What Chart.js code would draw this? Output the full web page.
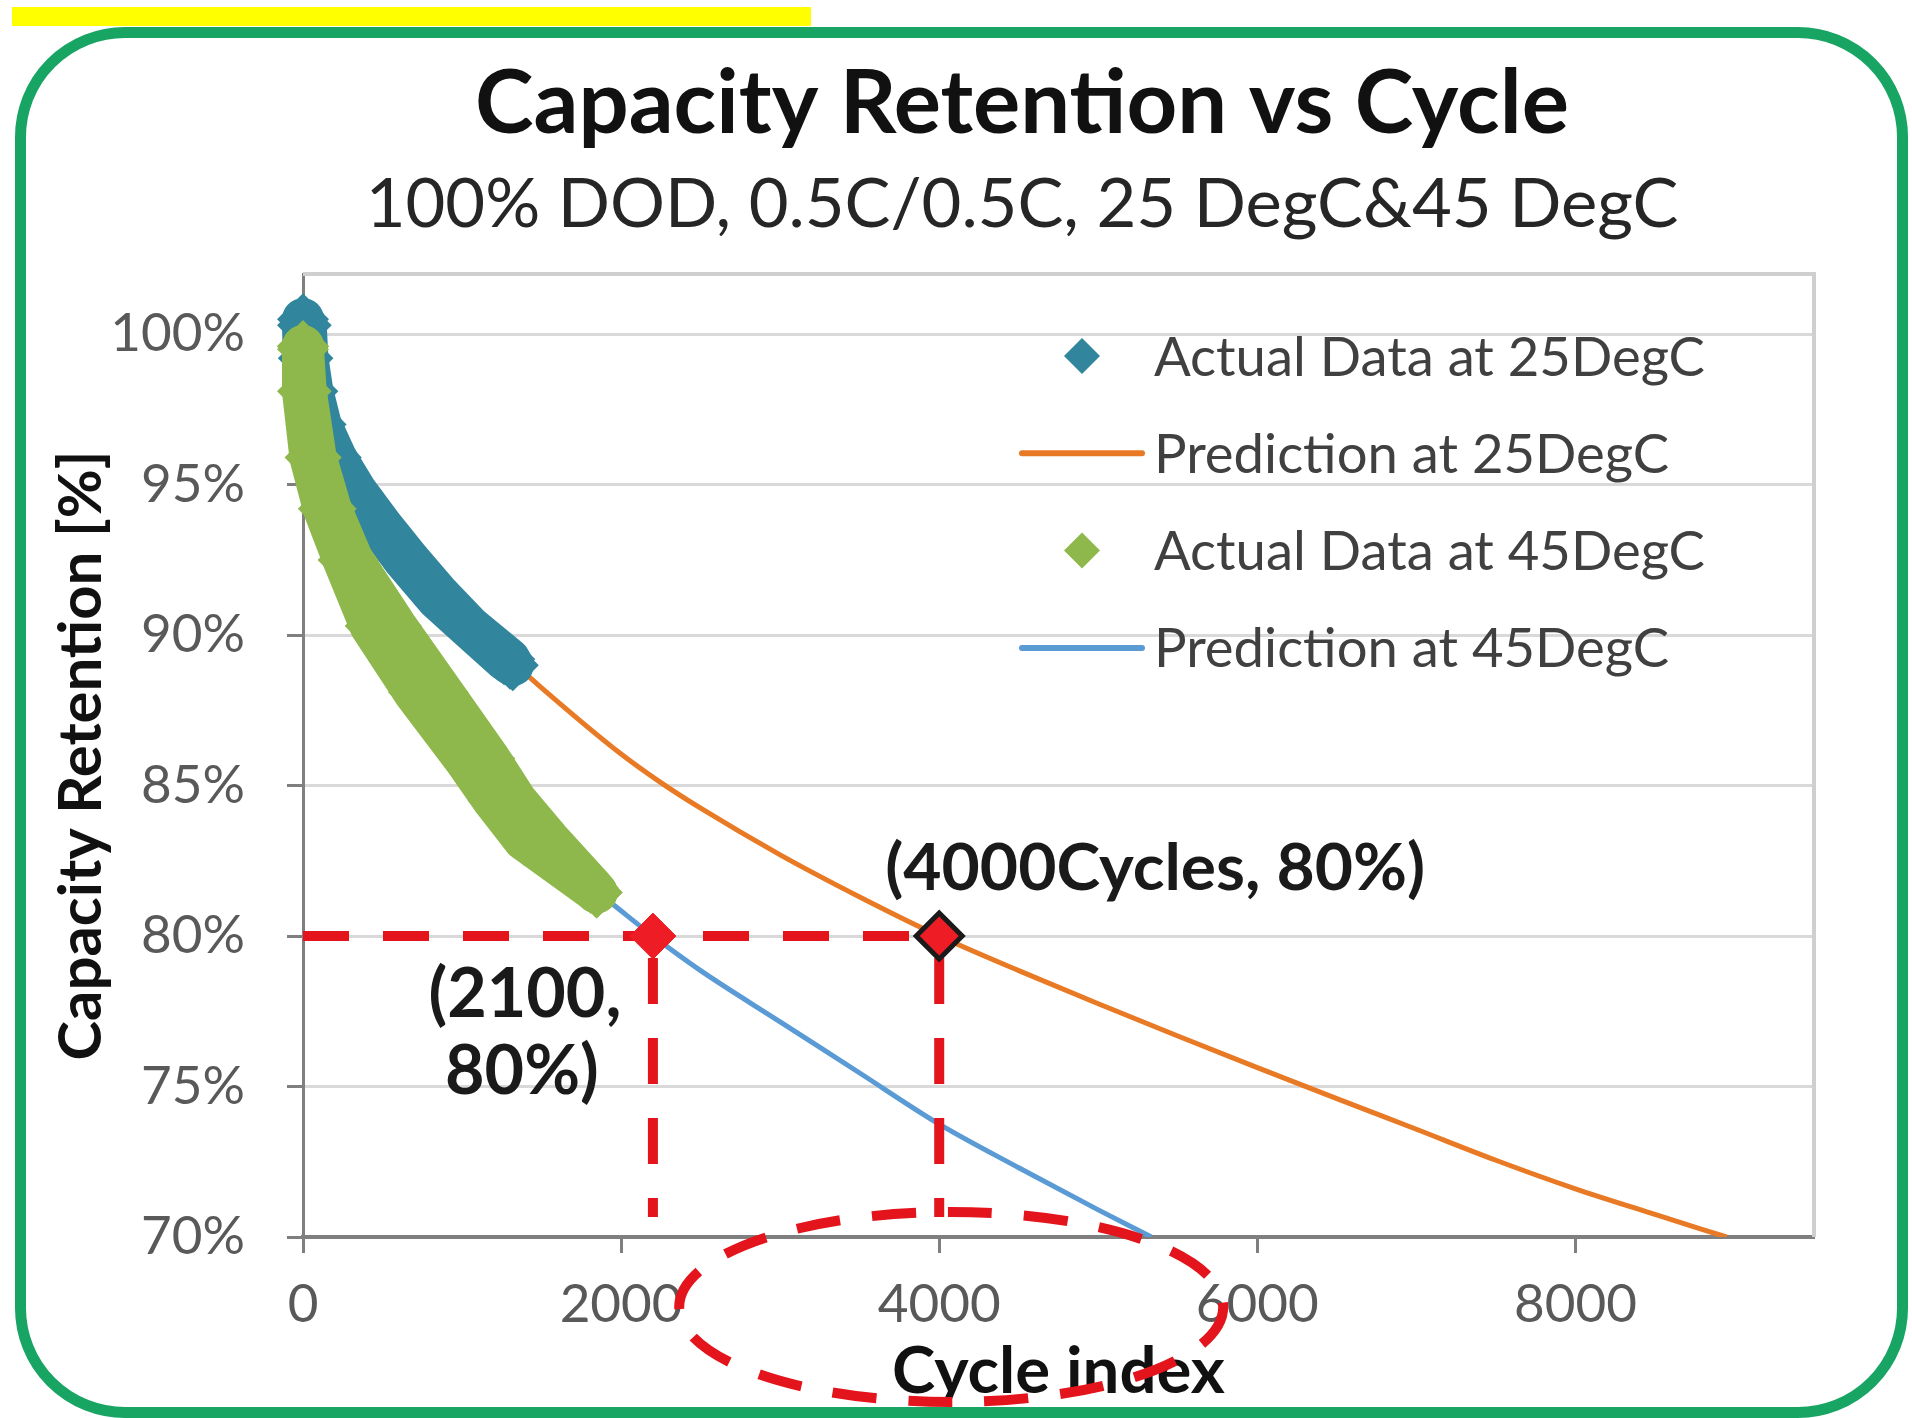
<!DOCTYPE html>
<html>
<head>
<meta charset="utf-8">
<script src="https://cdn.jsdelivr.net/npm/chart.js@4.4.1/dist/chart.umd.min.js"></script>
<style>
html,body{margin:0;padding:0;background:#fff;width:1912px;height:1418px;overflow:hidden;}
#frame{position:absolute;left:15px;top:27px;width:1893px;height:1391px;box-sizing:border-box;border:11px solid #18a462;border-radius:110px;}
#yellow{position:absolute;left:12px;top:7px;width:799px;height:19px;background:#ffff00;}
#c{position:absolute;left:0;top:0;}
</style>
</head>
<body>
<div id="frame"></div>
<div id="yellow"></div>
<canvas id="c" width="1912" height="1418"></canvas>
<script>
// ---------- data (cycles, capacity retention %) ----------
const seriesNames = ['Actual Data at 25DegC', 'Prediction at 25DegC', 'Actual Data at 45DegC', 'Prediction at 45DegC'];

// actual data 25 degC : two measured traces forming the band
const act25UpperCycles = [0, 17, 28, 59, 111, 206, 332, 500, 668, 846, 1045, 1297, 1319];
const act25UpperRet    = [100.5, 100.3, 99.2, 98.1, 97.0, 95.9, 94.8, 93.6, 92.5, 91.4, 90.3, 89.2, 89.0];
const act25LowerCycles = [0, 5, 20, 54, 160, 313, 481, 635, 844, 1033, 1264, 1302];
const act25LowerRet    = [100.3, 99.2, 98.1, 97.0, 95.9, 94.8, 93.6, 92.5, 91.2, 90.3, 89.2, 89.05];

// actual data 45 degC
const act45UpperCycles = [0, 0, 17, 80, 174, 311, 584, 878, 1171, 1340, 1548, 1823, 1846];
const act45UpperRet    = [99.6, 99.5, 98.1, 95.9, 94.2, 92.5, 90.3, 88.1, 85.9, 84.5, 83.2, 81.6, 81.45];
const act45LowerCycles = [0, 0, 47, 131, 255, 425, 698, 1013, 1198, 1390, 1810, 1846];
const act45LowerRet    = [99.6, 98.1, 95.9, 94.2, 92.5, 90.3, 88.1, 85.9, 84.5, 83.2, 81.6, 81.45];

// predictions
const pred25Cycles = [1300, 1500, 2000, 2250, 2500, 3000, 3500, 4000, 4500, 5000, 5500, 6000, 6500, 7000, 7500, 8000, 8500, 8950];
const pred25Ret    = [89.2, 88.25, 86.05, 85.1, 84.25, 82.7, 81.3, 80.0, 78.85, 77.75, 76.68, 75.63, 74.6, 73.58, 72.55, 71.6, 70.75, 70.0];
const pred45Cycles = [1950, 2200, 2500, 3000, 3500, 4000, 4500, 5000, 5334];
const pred45Ret    = [81.05, 80.0, 78.85, 77.15, 75.45, 73.75, 72.3, 70.9, 70.0];

// 80% end-of-life points
const eolCycles = [2200, 4000];
const eolRet    = [80, 80];

// axes
const xTickValues = [0, 2000, 4000, 6000, 8000];
const xTickLabels = ['0', '2000', '4000', '6000', '8000'];
const yTickValues = [70, 75, 80, 85, 90, 95, 100];
const yTickLabels = ['70%', '75%', '80%', '85%', '90%', '95%', '100%'];

const titleText = 'Capacity Retention vs Cycle';
const subtitleText = '100% DOD, 0.5C/0.5C, 25 DegC&45 DegC';
const xTitleText = 'Cycle index';
const yTitleText = 'Capacity Retention [%]';
const annoMain = '(4000Cycles, 80%)';
const annoSecond = ['(2100,', '80%)'];

// ---------- styles ----------
const FAM = 'Lato';
const C25A = '#31859c', C45A = '#8fb84c', C25P = '#e97a25', C45P = '#5b9bd5', RED = '#e3141c';
const meas = document.createElement('canvas').getContext('2d');
function fit(text, weight, target) {
  meas.font = weight + ' 100px ' + FAM;
  return 100 * target / meas.measureText(text).width;
}
const titleSize = fit(titleText, 'bold', 1094);
const subSize = fit(subtitleText, 'normal', 1313);
const tickSize = fit('4000', 'normal', 123);
const yTitleSize = fit(yTitleText, 'bold', 610);
const xTitleSize = fit(xTitleText, 'bold', 333);
const legendSize = fit(seriesNames[0], 'normal', 551);
const annoSize = fit(annoMain, 'bold', 540);
const anno2Size = fit(annoSecond[0], 'bold', 193);

const pts = (xs, ys) => xs.map((x, i) => ({x: x, y: ys[i]}));
const bandStyle = (color) => ({
  showLine: true, borderColor: color, backgroundColor: color, borderWidth: 42,
  borderJoinStyle: 'round', borderCapStyle: 'round', tension: 0,
  pointStyle: 'rectRot', pointRadius: 26, pointBackgroundColor: color,
  pointBorderColor: color, pointBorderWidth: 0, clip: false
});

const datasets = [
  Object.assign({label: 'EOL', data: pts(eolCycles, eolRet), showLine: false,
    pointStyle: 'rectRot', pointRadius: 23, pointBackgroundColor: '#ee1c24',
    pointBorderColor: ['#ee1c24', '#1a1a1a'], pointBorderWidth: [1, 5], order: 0, clip: false}),
  Object.assign({label: seriesNames[2], data: pts(act45UpperCycles, act45UpperRet), order: 1}, bandStyle(C45A)),
  Object.assign({label: seriesNames[2], data: pts(act45LowerCycles, act45LowerRet), order: 1}, bandStyle(C45A)),
  Object.assign({label: seriesNames[0], data: pts(act25UpperCycles, act25UpperRet), order: 2}, bandStyle(C25A)),
  Object.assign({label: seriesNames[0], data: pts(act25LowerCycles, act25LowerRet), order: 2}, bandStyle(C25A)),
  {label: seriesNames[1], data: pts(pred25Cycles, pred25Ret), borderColor: C25P, borderWidth: 5,
    pointRadius: 0, cubicInterpolationMode: 'monotone', order: 3},
  {label: seriesNames[3], data: pts(pred45Cycles, pred45Ret), borderColor: C45P, borderWidth: 5,
    pointRadius: 0, cubicInterpolationMode: 'monotone', order: 3}
];

const legendRows = [
  {name: seriesNames[0], color: C25A, kind: 'diamond'},
  {name: seriesNames[1], color: C25P, kind: 'line'},
  {name: seriesNames[2], color: C45A, kind: 'diamond'},
  {name: seriesNames[3], color: C45P, kind: 'line'}
];

const deco = {
  id: 'deco',
  beforeDraw(chart) {
    const ctx = chart.ctx;
    ctx.save();
    ctx.textAlign = 'center';
    ctx.textBaseline = 'alphabetic';
    ctx.fillStyle = '#111111';
    ctx.font = 'bold ' + titleSize + 'px ' + FAM;
    ctx.fillText(titleText, 1022, 133);
    ctx.fillStyle = '#262626';
    ctx.font = 'normal ' + subSize + 'px ' + FAM;
    ctx.fillText(subtitleText, 1022, 227);
    ctx.restore();
  },
  beforeDatasetsDraw(chart) {
    const {ctx, chartArea: a} = chart;
    ctx.save();
    ctx.strokeStyle = '#cfcfcf';
    ctx.lineWidth = 4;
    ctx.beginPath();
    ctx.moveTo(a.left, a.top);
    ctx.lineTo(a.right, a.top);
    ctx.lineTo(a.right, a.bottom);
    ctx.stroke();
    ctx.restore();
  },
  beforeDatasetDraw(chart, args) {
    if (args.index !== 0) return;
    const {ctx, scales: {x, y}} = chart;
    const y80 = y.getPixelForValue(eolRet[0]);
    const yb = y.getPixelForValue(70);
    ctx.save();
    ctx.strokeStyle = RED;
    ctx.lineWidth = 10;
    ctx.setLineDash([46, 34]);
    ctx.beginPath();
    ctx.moveTo(x.getPixelForValue(0), y80);
    ctx.lineTo(x.getPixelForValue(eolCycles[1]), y80);
    ctx.stroke();
    eolCycles.forEach(c => {
      const px = x.getPixelForValue(c);
      ctx.beginPath();
      ctx.moveTo(px, y80 + 22);
      ctx.lineTo(px, yb - 20);
      ctx.stroke();
    });
    ctx.restore();
  },
  afterDatasetsDraw(chart) {
    const {ctx, chartArea: a, scales: {x, y}} = chart;
    ctx.save();
    // legend
    ctx.font = 'normal ' + legendSize + 'px ' + FAM;
    ctx.textBaseline = 'middle';
    ctx.textAlign = 'left';
    legendRows.forEach((r, i) => {
      const cy = a.top + 82 + i * 97.3;
      if (r.kind === 'diamond') {
        const cx = a.right - 732, s = 18;
        ctx.fillStyle = r.color;
        ctx.beginPath();
        ctx.moveTo(cx, cy - s); ctx.lineTo(cx + s, cy); ctx.lineTo(cx, cy + s); ctx.lineTo(cx - s, cy);
        ctx.closePath(); ctx.fill();
      } else {
        ctx.strokeStyle = r.color; ctx.lineWidth = 6; ctx.lineCap = 'round';
        ctx.beginPath(); ctx.moveTo(a.right - 792, cy); ctx.lineTo(a.right - 672, cy); ctx.stroke();
      }
      ctx.fillStyle = '#404040';
      ctx.fillText(r.name, a.right - 660, cy + 2);
    });
    // annotations
    const p1x = x.getPixelForValue(eolCycles[1]), p0x = x.getPixelForValue(eolCycles[0]);
    const py = y.getPixelForValue(eolRet[0]);
    ctx.fillStyle = '#1a1a1a';
    ctx.textAlign = 'center';
    ctx.font = 'bold ' + annoSize + 'px ' + FAM;
    ctx.fillText(annoMain, p1x + 216, py - 67);
    ctx.font = 'bold ' + anno2Size + 'px ' + FAM;
    ctx.fillText(annoSecond[0], p0x - 128, py + 59);
    ctx.fillText(annoSecond[1], p0x - 131, py + 136);
    ctx.restore();
  },
  afterDraw(chart) {
    const {ctx, chartArea: a, scales: {x}} = chart;
    ctx.save();
    ctx.strokeStyle = RED;
    ctx.lineWidth = 10;
    ctx.setLineDash([44, 32]);
    ctx.beginPath();
    ctx.ellipse(x.getPixelForValue(4000) + 12, a.bottom + 70, 272, 95, 0, 0, Math.PI * 2);
    ctx.stroke();
    ctx.restore();
  }
};

new Chart(document.getElementById('c'), {
  type: 'line',
  data: {datasets: datasets},
  plugins: [deco],
  options: {
    responsive: false,
    animation: false,
    devicePixelRatio: 1,
    events: [],
    layout: {padding: {left: 0, top: 274, right: 98, bottom: 0}},
    plugins: {legend: {display: false}, tooltip: {enabled: false}, title: {display: false}},
    scales: {
      x: {
        type: 'linear', min: 0, max: 9500,
        afterBuildTicks: s => { s.ticks = xTickValues.map(v => ({value: v})); },
        afterFit: s => { s.height = 181; },
        ticks: {
          autoSkip: false, maxRotation: 0, color: '#595959',
          font: {family: FAM, size: tickSize},
          padding: 52 - 0.6 * tickSize,
          callback: v => xTickLabels[xTickValues.indexOf(v)]
        },
        grid: {drawOnChartArea: false, drawTicks: true, tickLength: 16, tickWidth: 3, tickColor: '#7f7f7f'},
        border: {color: '#7f7f7f', width: 4},
        title: {display: true, text: xTitleText, color: '#111111',
          font: {family: FAM, size: xTitleSize, weight: 'bold'},
          padding: {top: 0, bottom: 46 - 0.6 * xTitleSize}}
      },
      y: {
        type: 'linear', min: 70, max: 102,
        afterBuildTicks: s => { s.ticks = yTickValues.map(v => ({value: v})); },
        afterFit: s => { s.width = 303; },
        ticks: {
          color: '#595959', font: {family: FAM, size: tickSize}, padding: 42,
          callback: v => yTickLabels[yTickValues.indexOf(v)]
        },
        grid: {
          color: c => (c.tick && c.tick.value === 70) ? 'rgba(0,0,0,0)' : '#d9d9d9',
          lineWidth: 3, drawTicks: true, tickLength: 16, tickWidth: 3, tickColor: '#7f7f7f'
        },
        border: {color: '#7f7f7f', width: 3},
        title: {display: true, text: yTitleText, color: '#111111',
          font: {family: FAM, size: yTitleSize, weight: 'bold'},
          padding: {top: 82 - 0.6 * yTitleSize, bottom: 0}}
      }
    }
  }
});
</script>
</body>
</html>
